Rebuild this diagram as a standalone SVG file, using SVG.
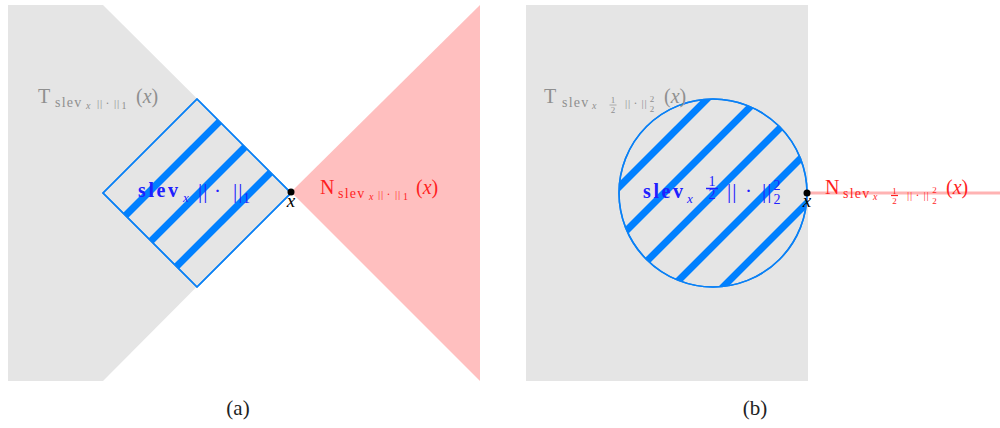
<svg xmlns="http://www.w3.org/2000/svg" width="1000" height="428" viewBox="0 0 1000 428">
<style>
.cone{fill:#e5e5e5}
.ncone{fill:#ffbfbf}
.ball{fill:#e5e5e5;stroke:#0a80f5;stroke-width:1.5}
.stripe{stroke:#0080ff;stroke-width:7}
.m{font-family:"Liberation Serif","DejaVu Serif",serif}
.g{fill:#8f8f8f}
.r{fill:#ff1f1f}
.b{fill:#2020ff}
.k{fill:#000}
.it{font-style:italic}
.bf{font-weight:bold}
.sl{letter-spacing:1.2px}
.sb{letter-spacing:2.6px}
.nb{letter-spacing:0.8px}
.nB{letter-spacing:1px}
.cap{font-family:"Liberation Serif",serif;font-size:21px;fill:#222;text-anchor:middle}
</style>
<defs>
<clipPath id="clipDiamond"><polygon points="103,193 197,99 291,193 197,287"/></clipPath>
<clipPath id="clipCircle"><circle cx="713" cy="193" r="94"/></clipPath>
</defs>
<rect width="1000" height="428" fill="#fff"/>

<!-- Panel (a) -->
<g id="tangent-a"><polygon class="cone" points="8,5 103,5 291,192 103,381 8,381"/></g>
<g id="normal-a"><polygon class="ncone" points="291,192 480,5 480,381"/></g>
<g id="ball-a">
<polygon class="ball" points="103,193 197,99 291,193 197,287"/>
<g clip-path="url(#clipDiamond)">
<line class="stripe" x1="60" y1="281" x2="300" y2="41"/>
<line class="stripe" x1="100" y1="292" x2="340" y2="52"/>
<line class="stripe" x1="140" y1="303" x2="380" y2="63"/>
</g>
<polygon points="103,193 197,99 291,193 197,287" fill="none" stroke="#0a80f5" stroke-width="1.5"/>
</g>
<g id="label-Ta">
<text class="m g" font-size="20"><tspan x="38" y="103">T</tspan><tspan x="55" y="107" font-size="14" class="sl">slev</tspan><tspan x="86" y="109" font-size="10" class="it">x</tspan><tspan x="97" y="106.5" font-size="11" class="nb">||</tspan><tspan x="105.5" y="106.5" font-size="12">·</tspan><tspan x="114" y="106.5" font-size="11" class="nb">||</tspan><tspan x="121.5" y="109" font-size="10">1</tspan><tspan x="136" y="103">(</tspan><tspan class="it">x</tspan><tspan>)</tspan></text>
</g>
<g id="label-Na">
<text class="m r" font-size="20"><tspan x="320" y="194">N</tspan><tspan x="338" y="198" font-size="14" class="sl">slev</tspan><tspan x="369" y="200" font-size="10" class="it">x</tspan><tspan x="378" y="197.5" font-size="11" class="nb">||</tspan><tspan x="386.5" y="197.5" font-size="12">·</tspan><tspan x="395" y="197.5" font-size="11" class="nb">||</tspan><tspan x="403" y="200" font-size="10">1</tspan><tspan x="416" y="194">(</tspan><tspan class="it">x</tspan><tspan>)</tspan></text>
</g>
<g id="label-ball-a">
<text class="m b" font-size="20"><tspan x="138" y="197" class="bf sb">slev</tspan><tspan x="183" y="202" font-size="13" class="it">x</tspan><tspan x="198" y="198" font-size="21" class="nB">||</tspan><tspan x="214" y="198" font-size="21">·</tspan><tspan x="233" y="198" font-size="21" class="nB">||</tspan><tspan x="243" y="203" font-size="14">1</tspan></text>
</g>
<g id="point-a">
<circle cx="291" cy="192" r="3.5" fill="#000"/>
<text class="m k it" x="291" y="207" font-size="19" text-anchor="middle">x</text>
</g>
<text class="cap" x="238" y="415">(a)</text>

<!-- Panel (b) -->
<g id="tangent-b"><rect class="cone" x="526" y="5" width="282" height="376"/></g>
<g id="normal-b"><line x1="807" y1="193" x2="1000" y2="193" stroke="#ffb3b3" stroke-width="3"/></g>
<g id="ball-b">
<circle class="ball" cx="713" cy="193" r="94"/>
<g clip-path="url(#clipCircle)">
<line class="stripe" x1="560" y1="246" x2="860" y2="-54"/>
<line class="stripe" x1="560" y1="297" x2="860" y2="-3"/>
<line class="stripe" x1="560" y1="348" x2="860" y2="48"/>
<line class="stripe" x1="560" y1="399" x2="860" y2="99"/>
<line class="stripe" x1="560" y1="450" x2="860" y2="150"/>
</g>
<circle cx="713" cy="193" r="94" fill="none" stroke="#0a80f5" stroke-width="1.5"/>
</g>
<g id="label-Tb">
<text class="m g" font-size="20"><tspan x="544" y="103">T</tspan><tspan x="562" y="107" font-size="14" class="sl">slev</tspan><tspan x="592" y="109" font-size="10" class="it">x</tspan><tspan x="625" y="106.5" font-size="11" class="nb">||</tspan><tspan x="633.5" y="106.5" font-size="12">·</tspan><tspan x="641.5" y="106.5" font-size="11" class="nb">||</tspan><tspan x="664" y="103">(</tspan><tspan class="it">x</tspan><tspan>)</tspan></text>
<text class="m g" font-size="9" text-anchor="middle"><tspan x="613" y="103">1</tspan><tspan x="613" y="113">2</tspan><tspan x="652" y="102">2</tspan><tspan x="652" y="112">2</tspan></text>
<line x1="609.5" y1="105" x2="616.5" y2="105" stroke="#8f8f8f" stroke-width="0.7"/>
</g>
<g id="label-Nb">
<text class="m r" font-size="20"><tspan x="825" y="194">N</tspan><tspan x="843" y="198" font-size="14" class="sl">slev</tspan><tspan x="873" y="200" font-size="10" class="it">x</tspan><tspan x="907" y="198.5" font-size="11" class="nb">||</tspan><tspan x="915.5" y="198.5" font-size="12">·</tspan><tspan x="923.5" y="198.5" font-size="11" class="nb">||</tspan><tspan x="946" y="194">(</tspan><tspan class="it">x</tspan><tspan>)</tspan></text>
<text class="m r" font-size="9" text-anchor="middle"><tspan x="894.5" y="193.5">1</tspan><tspan x="894.5" y="204">2</tspan><tspan x="934.5" y="193">2</tspan><tspan x="934.5" y="204">2</tspan></text>
<line x1="891" y1="195.5" x2="898" y2="195.5" stroke="#ff1f1f" stroke-width="1.2"/>
</g>
<g id="label-ball-b">
<text class="m b" font-size="20"><tspan x="643" y="198" class="bf sb">slev</tspan><tspan x="687" y="203" font-size="13" class="it">x</tspan><tspan x="727" y="198" font-size="21" class="nB">||</tspan><tspan x="745" y="198" font-size="21">·</tspan><tspan x="762" y="198" font-size="21" class="nB">||</tspan></text>
<text class="m b" font-size="14" text-anchor="middle"><tspan x="712" y="186">1</tspan><tspan x="712" y="199">2</tspan><tspan x="777" y="190">2</tspan><tspan x="777" y="204">2</tspan></text>
<line x1="706" y1="188.5" x2="718" y2="188.5" stroke="#2020ff" stroke-width="1.5"/>
</g>
<g id="point-b">
<circle cx="807" cy="193" r="3.5" fill="#000"/>
<text class="m k it" x="807" y="207" font-size="19" text-anchor="middle">x</text>
</g>
<text class="cap" x="755" y="415">(b)</text>
</svg>
